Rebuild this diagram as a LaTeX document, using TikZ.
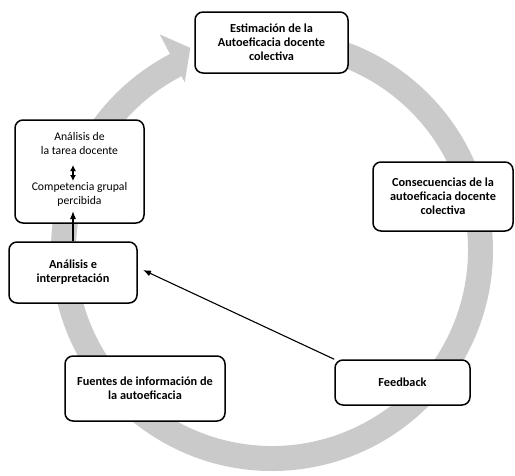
\documentclass[tikz,border=0pt]{standalone}
\usepackage{fontspec}
\setmainfont{Carlito}
\usetikzlibrary{arrows.meta}
\definecolor{ringgray}{RGB}{202,202,202}
\tikzset{
  box/.style={draw=black, line width=1.5pt, rounded corners=8pt, fill=white,
    align=center, inner sep=2pt, font=\fontsize{12.3}{13.8}\selectfont\bfseries},
  plain/.style={align=center, inner sep=0pt, font=\fontsize{11.7}{14}\selectfont},
  link/.style={line width=1.1pt, -{Latex[length=8pt,width=6pt]}},
  twoway/.style={line width=1.3pt, {Latex[length=6pt,width=6pt]}-{Latex[length=6pt,width=6pt]}}
}
\begin{document}
\begin{tikzpicture}[x=1pt,y=1pt]
\useasboundingbox (0,0) rectangle (515,-475);

% circular grey arrow running clockwise round the cycle
\begin{scope}[shift={(272pt,-250pt)}]
  \fill[ringgray] (95:221pt) arc[start angle=95, end angle=-242.5, radius=221pt]
    -- (-242.5:243pt) -- (-248:218pt) -- (-242.5:189pt) -- (-242.5:196pt)
    arc[start angle=-242.5, end angle=95, radius=196pt] -- cycle;
\end{scope}

% stages of the cycle
\node[box, minimum width=153pt, minimum height=61pt] (est) at (271.5,-42.5)
  {Estimación de la\\Autoeficacia docente\\colectiva};
\node[box, minimum width=140pt, minimum height=69pt] (cons) at (443,-196.5)
  {Consecuencias de la\\autoeficacia docente\\colectiva};
\node[box, minimum width=135pt, minimum height=45pt] (feed) at (402.5,-382.5)
  {Feedback};
\node[box, minimum width=160pt, minimum height=65pt] (fuentes) at (145,-388.5)
  {Fuentes de información de\\la autoeficacia};
\node[box, minimum width=128pt, minimum height=61pt] (interp) at (73,-272.5)
  {Análisis e\\interpretación};
\node[box, minimum width=129pt, minimum height=103pt] (task) at (79.5,-171.5) {};

% contents of the analysis box
\node[plain] (tarea) at (79.5,-143) {Análisis de\\la tarea docente};
\node[plain] (grupo) at (79.5,-194) {Competencia grupal\\percibida};
\coordinate (dtop) at (73,-165);
\coordinate (dbot) at (73,-181);
\draw[twoway] (dtop) -- (dbot);

% connectors
\coordinate (up) at (73,-211);
\draw[link] (interp.north -| up) -- (up);
\coordinate (fbend) at (143,-270);
\draw[link] (feed.north west) -- (fbend);
\end{tikzpicture}
\end{document}
